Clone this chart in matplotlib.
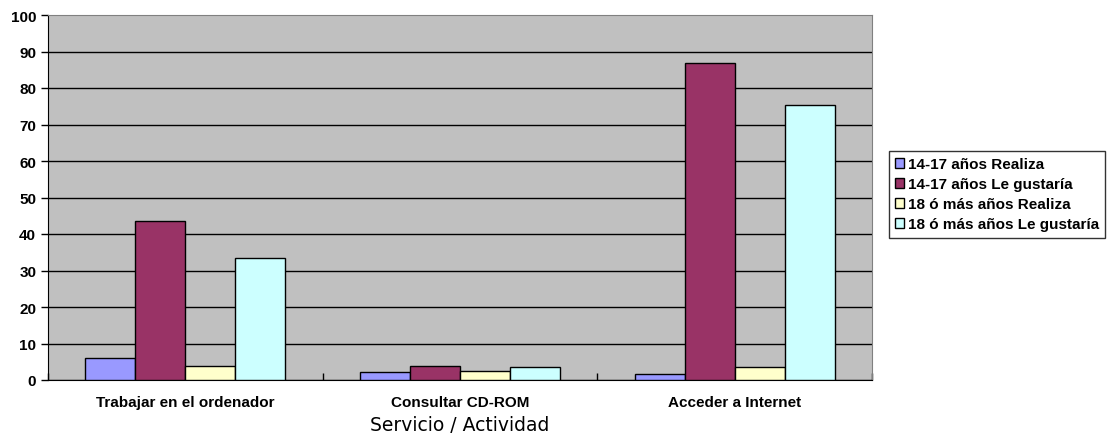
import numpy as np
import matplotlib
matplotlib.use("Agg")
import matplotlib.pyplot as plt

categories = ["Trabajar en el ordenador", "Consultar CD-ROM", "Acceder a Internet"]
series_names = ["14-17 años Realiza", "14-17 años Le gustaría",
                "18 ó más años Realiza", "18 ó más años Le gustaría"]
realiza_14_17 = [6.1, 2.1, 1.6]
gustaria_14_17 = [43.5, 3.9, 86.8]
realiza_18 = [3.8, 2.5, 3.5]
gustaria_18 = [33.3, 3.5, 75.3]

COLORS = ["#9999FF", "#993366", "#FFFFCC", "#CCFFFF"]
plt.rcParams["font.family"] = ["Liberation Sans", "DejaVu Sans"]

fig = plt.figure(figsize=(11.09, 4.39), dpi=100)
ax = fig.add_axes([48 / 1109, 1 - 381 / 439, (872 - 48) / 1109, (381 - 16) / 439])
ax.set_facecolor("#C0C0C0")

x = np.arange(len(categories))
w = 0.182
for i, (vals, col, lab) in enumerate(zip([realiza_14_17, gustaria_14_17, realiza_18, gustaria_18],
                                         COLORS, series_names)):
    ax.bar(x + (i - 1.5) * w, vals, w, color=col, edgecolor="black", lw=1.0,
           label=lab, zorder=3)

ax.set_xlim(-0.5, len(categories) - 0.5)
ax.set_ylim(0, 100)
ax.set_yticks(range(0, 101, 10))
ax.yaxis.grid(True, color="black", lw=1.0, zorder=1)
ax.set_axisbelow(True)
ax.yaxis.get_gridlines()[-1].set_visible(False)  # top border stays grey

# category labels centred, tick marks between categories
ax.set_xticks(np.arange(-0.5, len(categories), 1.0))
ax.set_xticklabels([])
ax.set_xticks(x, minor=True)
ax.set_xticklabels(categories, minor=True, fontsize=11, fontweight="bold")
ax.tick_params(axis="x", which="minor", length=0, pad=11)
ax.tick_params(axis="x", which="major", length=5, direction="in", width=1)
ax.tick_params(axis="y", length=5, direction="out", labelsize=11, width=1)
for t in ax.get_yticklabels():
    t.set_fontweight("bold")

ax.spines["top"].set_color("#808080")
ax.spines["right"].set_color("#808080")
ax.spines["left"].set_color("black")
ax.spines["bottom"].set_color("black")

ax.set_xlabel("Servicio / Actividad", fontsize=13.5, family="DejaVu Sans", labelpad=4)

leg = ax.legend(loc="upper left", bbox_to_anchor=(889 / 1109, 1 - 152 / 439),
                bbox_transform=fig.transFigure, frameon=True, fancybox=False,
                prop={"weight": "bold", "size": 11},
                handlelength=0.6, handleheight=0.6, handletextpad=0.25,
                borderpad=0.4, labelspacing=0.4, borderaxespad=0)
leg.get_frame().set_edgecolor("black")
leg.get_frame().set_linewidth(1.0)

fig.savefig("out.png", dpi=100)
